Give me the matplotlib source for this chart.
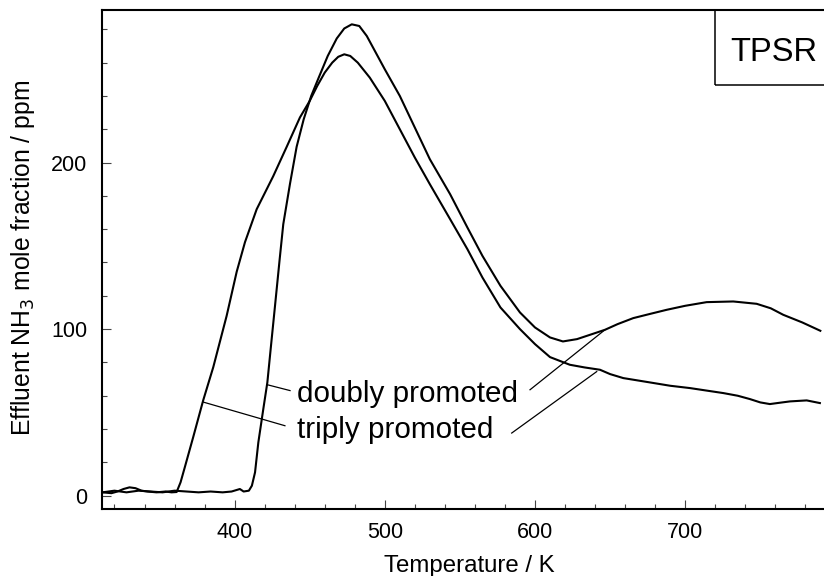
import matplotlib
matplotlib.use("Agg")
import matplotlib.pyplot as plt
from matplotlib.ticker import MultipleLocator
from matplotlib.patches import Rectangle

plt.rcParams['font.family'] = ['Liberation Sans', 'DejaVu Sans']

# ---- data ----
doubly_T = [312, 320, 328, 336, 344, 352, 360, 368, 376, 384, 392, 398, 403.5, 406, 409.5,
            411.5, 413.6, 415.8, 419.1, 421.8, 424, 426.9, 430, 432.4, 436.9, 441.3, 446, 451,
            456, 462, 468, 473, 478, 483, 488, 494, 500, 510, 520, 530, 543.5, 555, 565, 577,
            590, 600, 610, 618.6, 628, 638, 646.6, 655, 665.4, 676, 687.7, 700, 714.3, 732,
            747.6, 757, 765.3, 778, 790]
doubly_v = [2, 3, 2, 3, 2.5, 2, 3, 2.5, 2, 2.5, 2, 2.5, 4, 2.5, 3,
            6, 14, 32, 52, 68, 88, 114, 142, 163, 187.4, 209.5, 226, 240,
            251, 264, 274.5, 280.5, 283, 282, 276, 266, 256, 240, 221, 202, 181, 161, 144, 126,
            110, 101, 95, 92.6, 94, 97, 99.6, 103, 106.6, 109, 111.6, 114, 116.2, 116.6,
            115.2, 112.5, 108.6, 104, 99]

triply_T = [312, 318, 322, 326, 330, 334, 338, 342, 348, 354, 358, 361.4, 364, 367, 372.5,
            379.1, 385.8, 394.7, 401.4, 406.9, 414.7, 425.7, 434.7, 443.5, 450, 455, 460, 465,
            469, 473, 477, 482, 490, 500, 510, 520, 530, 543.5, 555, 565, 577, 590, 600, 610,
            623.2, 633, 643.3, 650, 658.8, 676.5, 690, 703.2, 715, 725.4, 735, 743.1, 750,
            756.4, 763, 769.8, 780.9, 789.7]
triply_v = [2, 1.5, 2.5, 4, 5, 4.5, 3, 2.5, 2, 2.5, 2, 2.2, 8, 17.6, 35.4,
            57.3, 77.2, 108, 134.5, 152.2, 172, 191.8, 209.5, 227.1, 237, 246, 254, 260,
            263.5, 265, 264, 260, 251, 237, 220, 203, 187, 166, 148, 131, 113, 100, 91, 83.2,
            78.6, 77, 75.6, 73, 70.6, 68, 66, 64.6, 63, 61.6, 60, 58, 56,
            55, 55.8, 56.6, 57.2, 55.6]

x_major = [400, 500, 600, 700]
y_major = [0, 100, 200]
labels = ["doubly promoted", "triply promoted"]

# ---- figure ----
W, H = 824, 576
fig = plt.figure(figsize=(W / 100, H / 100), dpi=100)
ax_left, ax_right, ax_top, ax_bottom = 102.3, 828.0, 10.0, 509.0
ax = fig.add_axes([ax_left / W, 1 - ax_bottom / H, (ax_right - ax_left) / W, (ax_bottom - ax_top) / H])

lw = 1.5
ax.plot(doubly_T, doubly_v, color='black', lw=lw, solid_joinstyle='round')
ax.plot(triply_T, triply_v, color='black', lw=lw, solid_joinstyle='round')

ax.set_xlim(311.9, 795.1)
ax.set_ylim(-8.0, 291.6)

ax.xaxis.set_major_locator(MultipleLocator(100))
ax.xaxis.set_minor_locator(MultipleLocator(20))
ax.yaxis.set_major_locator(MultipleLocator(100))
ax.yaxis.set_minor_locator(MultipleLocator(20))
ax.set_xticks(x_major)
ax.set_yticks(y_major)

ax.tick_params(which='both', direction='in', top=False, right=False, width=0.8, color='#444444')
ax.tick_params(which='major', length=6.5, labelsize=15.5)
ax.tick_params(axis='x', which='major', pad=9)
ax.tick_params(axis='y', which='major', pad=11)
ax.tick_params(which='minor', length=3.6)

for s in ['left', 'bottom', 'top']:
    ax.spines[s].set_linewidth(1.5)
ax.spines['right'].set_visible(False)

ax.set_xlabel("Temperature / K", fontsize=17.3, va='baseline')
ax.xaxis.set_label_coords(0.506, -0.1263)
ax.set_ylabel("Effluent NH$_3$ mole fraction / ppm", fontsize=17.8, va='center')
ax.yaxis.set_label_coords(-0.1093, 0.503)

# annotation labels
ax.text(441.3, 56.5, labels[0], fontsize=21.3, va='baseline', ha='left')
ax.text(441.3, 34.8, labels[1], fontsize=21.3, va='baseline', ha='left')

plw = 0.9
ax.plot([421.8, 436.9], [66.6, 63.1], color='black', lw=plw)
ax.plot([596.7, 646.6], [63.6, 99.6], color='black', lw=plw)
ax.plot([379.1, 433.5], [56.2, 42.0], color='black', lw=plw)
ax.plot([584.5, 641.1], [37.6, 74.5], color='black', lw=plw)

# TPSR box
ax.add_patch(Rectangle((719.8, 246.6), 200, 100, fill=False, lw=1.1, edgecolor='black'))
ax.text(729.8, 261.0, "TPSR", fontsize=23.5, va='baseline', ha='left')

fig.savefig("out.png", dpi=100)
